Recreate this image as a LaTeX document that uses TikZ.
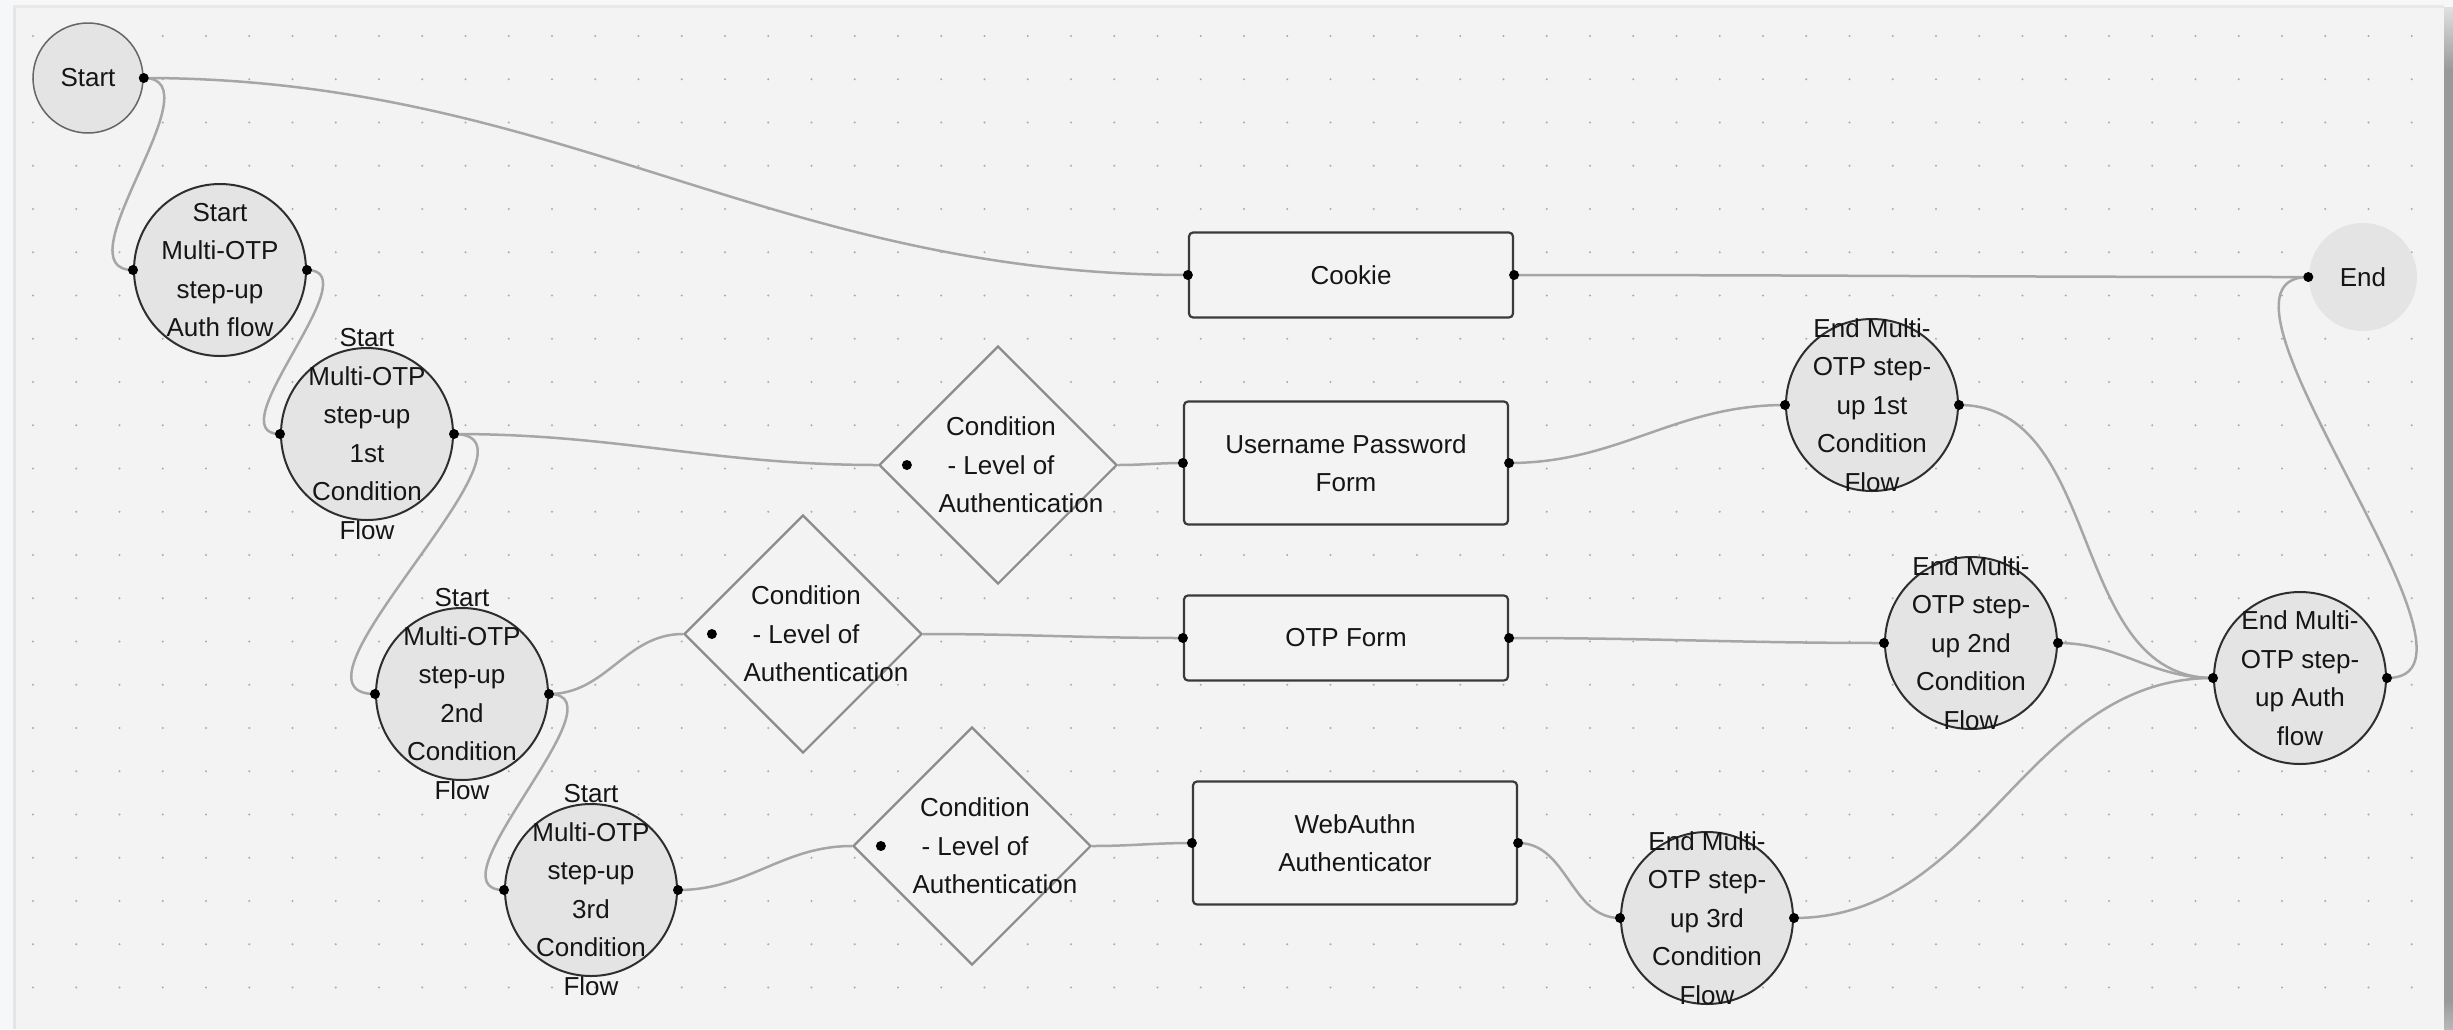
\documentclass[tikz,border=0pt]{standalone}
\usepackage{fontspec}
\setmainfont{Liberation Sans}
\usetikzlibrary{shapes.geometric}
\definecolor{outer}{HTML}{F6F7F8}
\definecolor{panel}{HTML}{F3F3F3}
\definecolor{griddot}{HTML}{ABABAB}
\definecolor{wirec}{HTML}{A6A6A6}
\definecolor{circc}{HTML}{2E2E2E}
\definecolor{boxc}{HTML}{3A3A3A}
\definecolor{diac}{HTML}{8C8C8C}
\definecolor{nodefill}{HTML}{E4E4E4}
\definecolor{ink}{HTML}{151515}
\begin{document}
\begin{tikzpicture}[x=0.1mm,y=-0.1mm,
    txt/.style={align=center, text=ink, inner sep=0pt, font=\fontsize{7.4}{10.95}\selectfont},
    bigc/.style={circle, draw=circc, line width=0.2mm, fill=nodefill, minimum size=17.2mm, inner sep=0pt},
    smallc/.style={circle, fill=nodefill, minimum size=10.8mm, inner sep=0pt, txt},
    cond/.style={diamond, aspect=1, draw=diac, fill=panel, line width=0.22mm, minimum width=23.8mm, minimum height=23.8mm, inner sep=0pt},
    stepbox/.style={rectangle, rounded corners=0.4mm, draw=boxc, fill=panel, line width=0.22mm, minimum width=32.4mm, txt},
    wire/.style={draw=wirec, line width=0.25mm}]

    \useasboundingbox[fill=outer] (0,0) rectangle (2453,1029);
    \fill[panel] (15,7) rectangle (2444,1029);
    \fill[black!10] (13,7) rectangle (16,1029);
    \fill[black!9] (13,5) rectangle (2444,8);
    \shade[top color=black!12, bottom color=black!40] (2444,7) rectangle (2453,70);
    \fill[black!40] (2444,70) rectangle (2453,1000);
    \shade[top color=black!40, bottom color=black!28] (2444,1000) rectangle (2453,1029);

    \foreach \i in {0,...,55}
      \foreach \j in {0,...,22}
        \fill[griddot] (33+\i*43.25,36+\j*43.25) circle[radius=0.12mm];

    \node[smallc, draw=black!60, line width=0.15mm, minimum size=11mm](st) at (88,78){Start};
    \node[smallc](en) at (2363,277){End};

    \node[bigc](sa) at (220,270){};
    \node[bigc](s1) at (367,434){};
    \node[bigc](s2) at (462,694){};
    \node[bigc](s3) at (591,890){};
    \node[txt](sat) at (sa){Start\\Multi-OTP\\step-up\\Auth flow};
    \node[txt](s1t) at (s1){Start\\Multi-OTP\\step-up\\1st\\Condition\\Flow};
    \node[txt](s2t) at (s2){Start\\Multi-OTP\\step-up\\2nd\\Condition\\Flow};
    \node[txt](s3t) at (s3){Start\\Multi-OTP\\step-up\\3rd\\Condition\\Flow};

    \node[cond](c1) at (998,465){};
    \node[cond](c2) at (803,634){};
    \node[cond](c3) at (972,846){};
    \node[txt](c1t) at (1001,465){Condition\\- Level of\\\makebox[12.5mm][l]{Authentication}};
    \node[txt](c2t) at (806,634){Condition\\- Level of\\\makebox[12.5mm][l]{Authentication}};
    \node[txt](c3t) at (975,846){Condition\\- Level of\\\makebox[12.5mm][l]{Authentication}};

    \node[stepbox, minimum height=8.5mm](ck) at (1351,275){Cookie};
    \node[stepbox, minimum height=12.3mm](up) at (1346,463){Username Password\\Form};
    \node[stepbox, minimum height=8.5mm](otp) at (1346,638){OTP Form};
    \node[stepbox, minimum height=12.3mm](wa) at (1355,843){WebAuthn\\Authenticator};

    \node[bigc](e1) at (1872,405){};
    \node[bigc](e2) at (1971,643){};
    \node[bigc](e3) at (1707,918){};
    \node[bigc](ea) at (2300,678){};
    \node[txt](e1t) at (e1){End Multi-\\OTP step-\\up 1st\\Condition\\Flow};
    \node[txt](e2t) at (e2){End Multi-\\OTP step-\\up 2nd\\Condition\\Flow};
    \node[txt](e3t) at (e3){End Multi-\\OTP step-\\up 3rd\\Condition\\Flow};
    \node[txt](eat) at (ea){End Multi-\\OTP step-\\up Auth\\flow};

    \draw[wire] (st.east) to[out=0,in=180] (ck.west);
    \draw[wire] (st.east) to[out=0,in=180] (sa.west);
    \draw[wire] (sa.east) to[out=0,in=180] (s1.west);
    \draw[wire] (s1.east) to[out=0,in=180] (c1.west);
    \draw[wire] (s1.east) to[out=0,in=180] (s2.west);
    \draw[wire] (s2.east) to[out=0,in=180] (c2.west);
    \draw[wire] (s2.east) to[out=0,in=180] (s3.west);
    \draw[wire] (s3.east) to[out=0,in=180] (c3.west);
    \draw[wire] (c1.east) to[out=0,in=180] (up.west);
    \draw[wire] (c2.east) to[out=0,in=180] (otp.west);
    \draw[wire] (c3.east) to[out=0,in=180] (wa.west);
    \draw[wire] (ck.east) to[out=0,in=180] (en.west);
    \draw[wire] (up.east) to[out=0,in=180] (e1.west);
    \draw[wire] (otp.east) to[out=0,in=180] (e2.west);
    \draw[wire] (wa.east) to[out=0,in=180] (e3.west);
    \draw[wire] (e1.east) to[out=0,in=180] (ea.west);
    \draw[wire] (e2.east) to[out=0,in=180] (ea.west);
    \draw[wire] (e3.east) to[out=0,in=180] (ea.west);
    \draw[wire] (ea.east) to[out=0,in=180,looseness=0.8] (en.west);

    \foreach \p in {st.east,en.west,sa.west,sa.east,s1.west,s1.east,s2.west,s2.east,s3.west,s3.east,
        ck.west,ck.east,up.west,up.east,otp.west,otp.east,wa.west,wa.east,
        e1.west,e1.east,e2.west,e2.east,e3.west,e3.east,ea.west,ea.east}
      \fill[black] (\p) circle[radius=0.5mm];
    \fill[black] (c1.west) ++(29,0) circle[radius=0.5mm];
    \fill[black] (c2.west) ++(29,0) circle[radius=0.5mm];
    \fill[black] (c3.west) ++(29,0) circle[radius=0.5mm];

  \end{tikzpicture}
\end{document}
